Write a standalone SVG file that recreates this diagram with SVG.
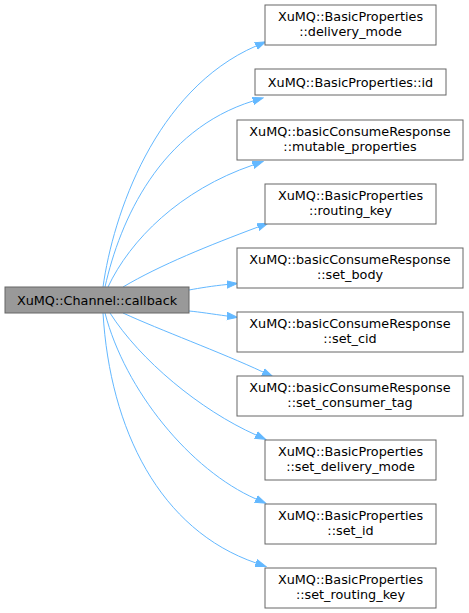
<svg xmlns="http://www.w3.org/2000/svg" width="469" height="613" viewBox="0 0 469 613">
<style>
  .n rect { fill: #ffffff; stroke: #666666; stroke-width: 1; }
  .root rect { fill: #999999; stroke: #666666; stroke-width: 1; }
  text { font-family: "DejaVu Sans", sans-serif; font-size: 12.8px; fill: #000000; text-anchor: middle; }
  .e path { fill: none; stroke: #63b8ff; stroke-width: 1; }
</style>
<defs>
  <marker id="ah" markerUnits="userSpaceOnUse" markerWidth="12" markerHeight="10" viewBox="0 -5 12 10" refX="0" refY="0" orient="auto">
    <path d="M0,-3.6 L10.5,0 L0,3.6 Z" fill="#63b8ff" stroke="#63b8ff" stroke-width="1"/>
  </marker>
</defs>
<rect x="0" y="0" width="469" height="613" fill="#ffffff"/>
<g id="edges" class="e">
  <path marker-end="url(#ah)" d="M103,287 C113,215 155,90 256,46"/>
  <path marker-end="url(#ah)" d="M105,287 C120,220 160,130 253,101"/>
  <path marker-end="url(#ah)" d="M108,287 C130,240 180,190 253,165"/>
  <path marker-end="url(#ah)" d="M123,287 C160,265 210,245 258,227"/>
  <path marker-end="url(#ah)" d="M189,290 C200,288 212,286 227,284.5"/>
  <path marker-end="url(#ah)" d="M189,311 C200,312 212,314 227,316"/>
  <path marker-end="url(#ah)" d="M123,313 C160,330 220,352 263,372"/>
  <path marker-end="url(#ah)" d="M110,313 C140,360 200,410 256,435"/>
  <path marker-end="url(#ah)" d="M105,313 C125,390 190,470 256,499"/>
  <path marker-end="url(#ah)" d="M103,313 C110,430 160,530 256,563"/>
</g>
<g id="callback" class="root">
  <rect x="5" y="287" width="184" height="26"/>
  <text x="97" y="304.5">XuMQ::Channel::callback</text>
</g>
<g id="delivery_mode" class="n">
  <rect x="265" y="5" width="171" height="40"/>
  <text x="350.5" y="20.5">XuMQ::BasicProperties</text>
  <text x="350.5" y="35.5">::delivery_mode</text>
</g>
<g id="id" class="n">
  <rect x="255" y="69" width="191" height="26"/>
  <text x="350.5" y="86.5">XuMQ::BasicProperties::id</text>
</g>
<g id="mutable_properties" class="n">
  <rect x="237" y="120" width="226" height="40"/>
  <text x="350" y="135.5">XuMQ::basicConsumeResponse</text>
  <text x="350" y="150.5">::mutable_properties</text>
</g>
<g id="routing_key" class="n">
  <rect x="265" y="184" width="171" height="40"/>
  <text x="350.5" y="199.5">XuMQ::BasicProperties</text>
  <text x="350.5" y="214.5">::routing_key</text>
</g>
<g id="set_body" class="n">
  <rect x="237" y="248" width="226" height="40"/>
  <text x="350" y="263.5">XuMQ::basicConsumeResponse</text>
  <text x="350" y="278.5">::set_body</text>
</g>
<g id="set_cid" class="n">
  <rect x="237" y="312" width="226" height="40"/>
  <text x="350" y="327.5">XuMQ::basicConsumeResponse</text>
  <text x="350" y="342.5">::set_cid</text>
</g>
<g id="set_consumer_tag" class="n">
  <rect x="237" y="376" width="226" height="40"/>
  <text x="350" y="391.5">XuMQ::basicConsumeResponse</text>
  <text x="350" y="406.5">::set_consumer_tag</text>
</g>
<g id="set_delivery_mode" class="n">
  <rect x="265" y="440" width="171" height="40"/>
  <text x="350.5" y="455.5">XuMQ::BasicProperties</text>
  <text x="350.5" y="470.5">::set_delivery_mode</text>
</g>
<g id="set_id" class="n">
  <rect x="265" y="504" width="171" height="40"/>
  <text x="350.5" y="519.5">XuMQ::BasicProperties</text>
  <text x="350.5" y="534.5">::set_id</text>
</g>
<g id="set_routing_key" class="n">
  <rect x="265" y="568" width="171" height="40"/>
  <text x="350.5" y="583.5">XuMQ::BasicProperties</text>
  <text x="350.5" y="598.5">::set_routing_key</text>
</g>
</svg>
